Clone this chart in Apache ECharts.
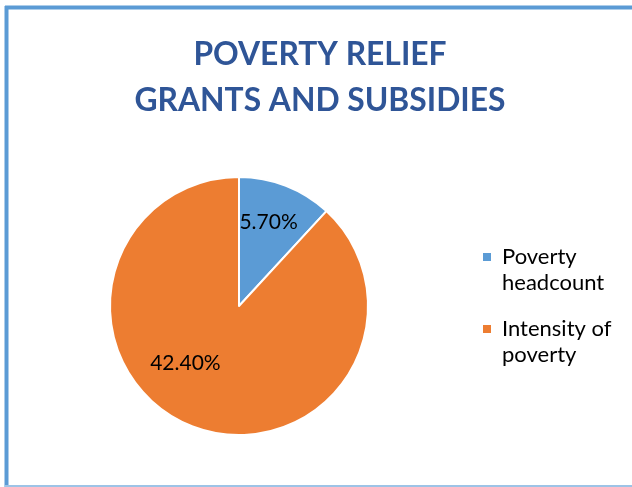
<!DOCTYPE html>
<html><head><meta charset="utf-8">
<script src="https://cdn.jsdelivr.net/npm/echarts@6/dist/echarts.min.js"></script>
<style>html,body{margin:0;padding:0;background:#fff}#c{width:632px;height:487px}</style>
</head><body><div id="c"></div>
<script>
const categories = ["Poverty headcount", "Intensity of poverty"];
const legendLines = [["Poverty", "headcount"], ["Intensity of", "poverty"]];
const values = [5.7, 42.4];
const labels = ["5.70%", "42.40%"];
const colors = ["#5B9BD5", "#ED7D31"];
const titleLines = ["POVERTY RELIEF", "GRANTS AND SUBSIDIES"];

const labelOffsets = [[5, -21], [-29, -6]];
const rich = {
  g: {width: 11},
  g2: {width: 19},
  t: {fontFamily: 'Lato', fontSize: 22, color: '#000', lineHeight: 26}
};
colors.forEach((c, i) => { rich['m' + i] = {width: 8, height: 8, backgroundColor: c}; });

const chart = echarts.init(document.getElementById('c'));
chart.setOption({
  animation: false,
  title: {
    text: titleLines.join('\n'),
    left: 320, textAlign: 'center', top: 31, padding: 0,
    textStyle: {fontFamily: 'Lato', fontWeight: 'bold', fontSize: 31.8, color: '#2F5597', lineHeight: 46.5}
  },
  legend: {
    orient: 'vertical', left: 473, top: 241, itemWidth: 0, itemHeight: 8, itemGap: 24,
    icon: 'none',
    data: categories,
    formatter: (name) => {
      const i = categories.indexOf(name);
      return '{m' + i + '|}{g|}{t|' + legendLines[i][0] + '}\n{g2|}{t|' + legendLines[i][1] + '}';
    },
    textStyle: {rich: rich}
  },
  graphic: [
    {type: 'line', shape: {x1: 6.5, y1: 6, x2: 6.5, y2: 487}, style: {stroke: '#5B9BD5', lineWidth: 4}},
    {type: 'line', shape: {x1: 5, y1: 7.5, x2: 632, y2: 7.5}, style: {stroke: '#5B9BD5', lineWidth: 4}},
    {type: 'line', shape: {x1: 5, y1: 486, x2: 632, y2: 486}, style: {stroke: '#9DC3E6', lineWidth: 2}}
  ],
  series: [{
    type: 'pie', center: [239, 306], radius: 129, startAngle: 90, clockwise: true,
    itemStyle: {borderColor: '#fff', borderWidth: 2},
    label: {position: 'inside', fontFamily: 'Lato', fontSize: 21, color: '#000'},
    labelLine: {show: false},
    data: categories.map((n, i) => ({
      name: n, value: values[i], itemStyle: {color: colors[i]},
      label: {formatter: labels[i], offset: labelOffsets[i]}
    }))
  }]
});
</script></body></html>
